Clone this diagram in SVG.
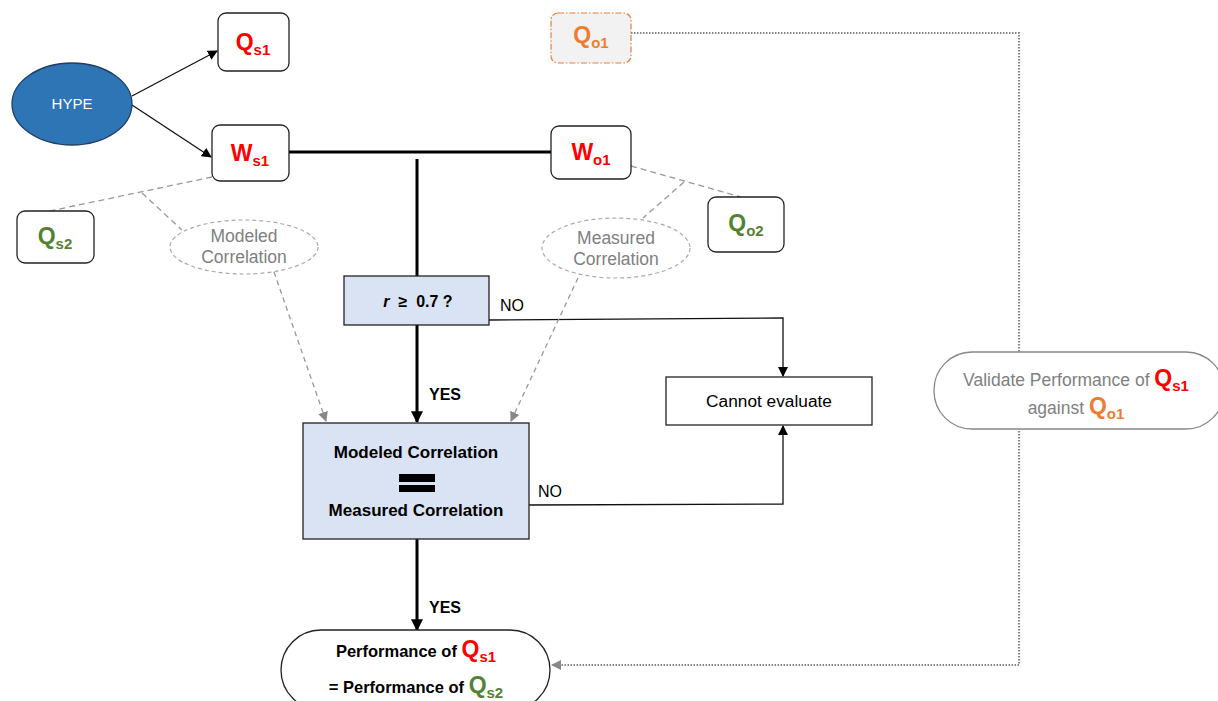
<svg xmlns="http://www.w3.org/2000/svg" width="1218" height="701" viewBox="0 0 1218 701">
<style>
text{font-family:"Liberation Sans",Arial,sans-serif}
.box{fill:#fff;stroke:#222;stroke-width:1.3}
.blue{fill:#DAE3F3;stroke:#222;stroke-width:1.3}
.q{font-weight:bold;font-size:23px;text-anchor:middle}
.sub{font-size:15px}
.red{fill:#FF0000}
.green{fill:#548235}
.orange{fill:#ED7D31}
.gray{fill:#808080}
.dash{fill:none;stroke:#999;stroke-width:1.3;stroke-dasharray:6 4}
.thin{fill:none;stroke:#111;stroke-width:1.3}
.thick{fill:none;stroke:#000;stroke-width:3}
.dot{fill:none;stroke:#888;stroke-width:2.2;stroke-dasharray:1.5 1.5}
.lbl{font-size:16px;fill:#000}
.b{font-weight:bold}
</style>
<defs>
<marker id="ab" viewBox="0 0 10 10" refX="9" refY="5" markerWidth="10" markerHeight="10" markerUnits="userSpaceOnUse" orient="auto"><path d="M0,0L10,5L0,10z" fill="#000"/></marker>
<marker id="abt" viewBox="0 0 10 10" refX="9" refY="5" markerWidth="12" markerHeight="12" markerUnits="userSpaceOnUse" orient="auto"><path d="M0,0L10,5L0,10z" fill="#000"/></marker>
<marker id="ag" viewBox="0 0 10 10" refX="9" refY="5" markerWidth="10" markerHeight="10" markerUnits="userSpaceOnUse" orient="auto"><path d="M0,0L10,5L0,10z" fill="#888"/></marker>
</defs>
<g id="connectors">
<line class="thin" x1="132" y1="96" x2="217" y2="51" marker-end="url(#ab)"/>
<line class="thin" x1="132" y1="105" x2="211" y2="157" marker-end="url(#ab)"/>
<line class="thick" x1="289" y1="152" x2="551" y2="152"/>
<line class="thick" x1="417" y1="159" x2="417" y2="276"/>
<line class="thick" x1="417" y1="325" x2="417" y2="422" marker-end="url(#abt)"/>
<line class="thick" x1="417" y1="539" x2="417" y2="630" marker-end="url(#abt)"/>
<path class="thin" d="M489,320 L783,318 L783,376" marker-end="url(#ab)"/>
<path class="thin" d="M529,505 L783,504 L783,426" marker-end="url(#ab)"/>
<line class="dash" x1="212" y1="177" x2="50" y2="211"/>
<line class="dash" x1="142" y1="193" x2="182" y2="230"/>
<line class="dash" x1="631" y1="166" x2="741" y2="197"/>
<line class="dash" x1="684" y1="182" x2="643" y2="218"/>
<line class="dash" x1="274" y1="272" x2="326" y2="421" style="stroke-dasharray:5 4" marker-end="url(#ag)"/>
<line class="dash" x1="578" y1="278" x2="511" y2="421" style="stroke-dasharray:5 4" marker-end="url(#ag)"/>
<path class="dot" d="M631,33 L1019,33 L1019,665 L552,665" marker-end="url(#ag)"/>
</g>
<g id="hype">
<ellipse cx="72" cy="104" rx="60" ry="41" fill="#2E75B6" stroke="#1F3F66" stroke-width="1.3"/>
<text x="72" y="109" font-size="15" fill="#fff" text-anchor="middle">HYPE</text>
</g>
<g id="qs1">
<rect class="box" x="218" y="13" width="71" height="58" rx="8"/>
<text class="q red" x="253" y="50">Q<tspan class="sub" dy="5">s1</tspan></text>
</g>
<g id="ws1">
<rect class="box" x="212" y="125" width="77" height="56" rx="8"/>
<text class="q red" x="250" y="161">W<tspan class="sub" dy="5">s1</tspan></text>
</g>
<g id="qs2">
<rect class="box" x="17" y="211" width="77" height="52" rx="8"/>
<text class="q green" x="55" y="244">Q<tspan class="sub" dy="5">s2</tspan></text>
</g>
<g id="modeled">
<ellipse cx="244" cy="247" rx="74" ry="27" fill="#fff" stroke="#aaa" stroke-width="1.2" stroke-dasharray="4 3"/>
<text x="244" y="242" font-size="17.5" class="gray" text-anchor="middle">Modeled</text>
<text x="244" y="263" font-size="17.5" class="gray" text-anchor="middle">Correlation</text>
</g>
<g id="qo1">
<rect x="551" y="13" width="80" height="50" rx="7" fill="#F2F2F2" stroke="#ED7D31" stroke-width="1.2" stroke-dasharray="6 2 1.5 2"/>
<text class="q orange" x="591" y="43">Q<tspan class="sub" dy="5">o1</tspan></text>
</g>
<g id="wo1">
<rect class="box" x="551" y="126" width="80" height="53" rx="8"/>
<text class="q red" x="591" y="160">W<tspan class="sub" dy="5">o1</tspan></text>
</g>
<g id="qo2">
<rect class="box" x="708" y="197" width="76" height="55" rx="8"/>
<text class="q green" x="746" y="231">Q<tspan class="sub" dy="5">o2</tspan></text>
</g>
<g id="measured">
<ellipse cx="616" cy="248" rx="74" ry="30" fill="#fff" stroke="#aaa" stroke-width="1.2" stroke-dasharray="4 3"/>
<text x="616" y="244" font-size="17.5" class="gray" text-anchor="middle">Measured</text>
<text x="616" y="265" font-size="17.5" class="gray" text-anchor="middle">Correlation</text>
</g>
<g id="decision">
<rect class="blue" x="344" y="276" width="145" height="49"/>
<text x="418" y="307" font-size="16" font-weight="bold" text-anchor="middle" xml:space="preserve"><tspan font-style="italic">r</tspan>  ≥  0.7 ?</text>
</g>
<g id="compare">
<rect class="blue" x="303" y="423" width="226" height="116"/>
<text x="416" y="458" font-size="17" font-weight="bold" text-anchor="middle">Modeled Correlation</text>
<rect x="399" y="474" width="36" height="8" fill="#000"/>
<rect x="399" y="485" width="36" height="7" fill="#000"/>
<text x="416" y="516" font-size="17" font-weight="bold" text-anchor="middle">Measured Correlation</text>
</g>
<g id="cannot">
<rect x="666" y="377" width="206" height="48" fill="#fff" stroke="#222" stroke-width="1.3"/>
<text x="769" y="407" font-size="17.3" text-anchor="middle">Cannot evaluate</text>
</g>
<g id="labels">
<text class="lbl" x="500" y="311">NO</text>
<text class="lbl" x="538" y="497">NO</text>
<text class="lbl b" x="429" y="400" font-size="15">YES</text>
<text class="lbl b" x="429" y="613" font-size="15">YES</text>
</g>
<g id="performance">
<rect x="281" y="630" width="269" height="80" rx="40" fill="#fff" stroke="#222" stroke-width="1.3"/>
<text x="416" y="657" font-size="16.5" font-weight="bold" text-anchor="middle">Performance of <tspan class="red" font-size="23">Q</tspan><tspan class="red" font-size="15" dy="5">s1</tspan></text>
<text x="416" y="693" font-size="16.5" font-weight="bold" text-anchor="middle">= Performance of <tspan class="green" font-size="23">Q</tspan><tspan class="green" font-size="15" dy="5">s2</tspan></text>
</g>
<g id="validate">
<rect x="934" y="352" width="290" height="77" rx="38" fill="#fff" stroke="#888" stroke-width="1.3"/>
<text x="1076" y="386" font-size="17.5" class="gray" text-anchor="middle">Validate Performance of <tspan class="red" font-size="23" font-weight="bold">Q</tspan><tspan class="red" font-size="15" font-weight="bold" dy="5">s1</tspan></text>
<text x="1076" y="414" font-size="17.5" class="gray" text-anchor="middle">against <tspan class="orange" font-size="23" font-weight="bold">Q</tspan><tspan class="orange" font-size="15" font-weight="bold" dy="5">o1</tspan></text>
</g>
</svg>
